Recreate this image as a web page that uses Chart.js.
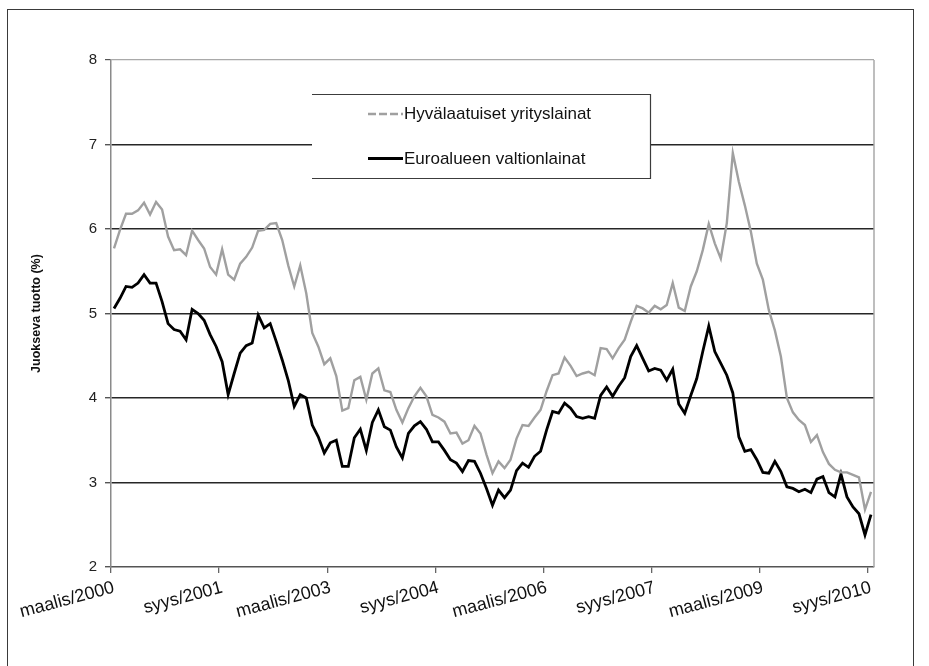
<!DOCTYPE html>
<html>
<head>
<meta charset="utf-8">
<script src="https://cdn.jsdelivr.net/npm/chart.js@4/dist/chart.umd.min.js"></script>
<style>
  html, body { margin: 0; padding: 0; background: #fff; }
  #wrap { position: relative; width: 929px; height: 666px; overflow: hidden; background: #fff; }
  #frame { position: absolute; left: 7px; top: 9px; width: 907px; height: 720px; border: 1px solid #3a3a3a; box-sizing: border-box; pointer-events: none; }
  canvas { position: absolute; left: 0; top: 0; }
</style>
</head>
<body>
<div id="wrap">
  <canvas id="chart" width="929" height="666"></canvas>
  <div id="frame"></div>
</div>
<script>
// Monthly categories, maalis/2000 .. syys/2010
const monthNames = ['tammi', 'helmi', 'maalis', 'huhti', 'touko', 'kesä', 'heinä', 'elo', 'syys', 'loka', 'marras', 'joulu'];
const firstMonth = 2, firstYear = 2000, monthCount = 127;
const categories = [];
for (let k = 0; k < monthCount; k++) {
  const m = firstMonth + k;
  categories.push(monthNames[m % 12] + '/' + (firstYear + Math.floor(m / 12)));
}

// Labels shown on the x axis, one every 18 months
const tickEvery = 18;
const tickLabels = ['maalis/2000', 'syys/2001', 'maalis/2003', 'syys/2004', 'maalis/2006', 'syys/2007', 'maalis/2009', 'syys/2010'];

// Y axis range (%)
const yTicks = [2, 3, 4, 5, 6, 7, 8];

// Hyvälaatuiset yrityslainat, running yield (%)
const corporate = [
  5.77, 5.99, 6.18, 6.18, 6.22, 6.31, 6.17, 6.32, 6.23, 5.91,
  5.75, 5.76, 5.69, 5.98, 5.87, 5.77, 5.55, 5.46, 5.76, 5.46,
  5.40, 5.59, 5.67, 5.78, 5.98, 5.99, 6.06, 6.07, 5.87, 5.57,
  5.32, 5.57, 5.24, 4.77, 4.61, 4.40, 4.47, 4.26, 3.85, 3.88,
  4.21, 4.25, 3.98, 4.29, 4.35, 4.09, 4.07, 3.86, 3.71, 3.88,
  4.02, 4.12, 4.02, 3.80, 3.77, 3.72, 3.58, 3.59, 3.46, 3.50,
  3.67, 3.58, 3.33, 3.11, 3.25, 3.17, 3.27, 3.52, 3.68, 3.67,
  3.77, 3.86, 4.08, 4.27, 4.29, 4.48, 4.38, 4.26, 4.29, 4.31,
  4.27, 4.59, 4.58, 4.47, 4.59, 4.69, 4.90, 5.09, 5.06, 5.01,
  5.09, 5.05, 5.10, 5.36, 5.07, 5.03, 5.32, 5.50, 5.75, 6.06,
  5.83, 5.65, 6.07, 6.90, 6.56, 6.28, 5.97, 5.59, 5.40, 5.04,
  4.80, 4.49, 4.00, 3.83, 3.74, 3.68, 3.48, 3.56, 3.36, 3.22,
  3.15, 3.12, 3.12, 3.09, 3.06, 2.68, 2.89
];

// Euroalueen valtionlainat, running yield (%)
const government = [
  5.06, 5.18, 5.32, 5.31, 5.36, 5.46, 5.36, 5.36, 5.14, 4.88,
  4.81, 4.79, 4.69, 5.05, 5.00, 4.92, 4.75, 4.61, 4.43, 4.04,
  4.29, 4.53, 4.62, 4.65, 4.98, 4.83, 4.88, 4.67, 4.45, 4.21,
  3.90, 4.04, 4.00, 3.68, 3.54, 3.35, 3.47, 3.50, 3.19, 3.19,
  3.53, 3.63, 3.38, 3.71, 3.86, 3.66, 3.62, 3.42, 3.29, 3.58,
  3.67, 3.72, 3.63, 3.48, 3.48, 3.38, 3.27, 3.23, 3.13, 3.26,
  3.25, 3.11, 2.93, 2.73, 2.91, 2.82, 2.91, 3.14, 3.23, 3.18,
  3.31, 3.37, 3.62, 3.84, 3.82, 3.94, 3.88, 3.78, 3.76, 3.78,
  3.76, 4.03, 4.13, 4.02, 4.14, 4.24, 4.49, 4.62, 4.47, 4.32,
  4.35, 4.33, 4.21, 4.34, 3.93, 3.82, 4.03, 4.23, 4.55, 4.85,
  4.55, 4.41, 4.27, 4.06, 3.54, 3.37, 3.39, 3.27, 3.12, 3.11,
  3.25, 3.13, 2.95, 2.93, 2.89, 2.92, 2.88, 3.04, 3.07, 2.88,
  2.83, 3.10, 2.83, 2.71, 2.63, 2.38, 2.62
];

const FONT = "'Liberation Sans', Arial, sans-serif";

// Light border on the right edge of the plot area
const plotEdge = {
  id: 'plotEdge',
  beforeDatasetsDraw(chart) {
    const { ctx, chartArea: a } = chart;
    ctx.save();
    ctx.strokeStyle = '#a9a9a9';
    ctx.lineWidth = 1.5;
    ctx.beginPath();
    ctx.moveTo(a.right, a.top);
    ctx.lineTo(a.right, a.bottom);
    ctx.stroke();
    ctx.restore();
  }
};

// Boxed legend placed inside the plot area
const boxLegend = {
  id: 'boxLegend',
  afterDatasetsDraw(chart) {
    const { ctx } = chart;
    const x0 = 312, x1 = 650.5, y0 = 94.5, y1 = 178.5;
    ctx.save();
    ctx.fillStyle = '#fff';
    ctx.fillRect(x0, y0, x1 - x0, y1 - y0);
    ctx.strokeStyle = '#3c3c3c';
    ctx.lineWidth = 1.2;
    ctx.beginPath();
    ctx.moveTo(x0, y0); ctx.lineTo(x1, y0); ctx.lineTo(x1, y1); ctx.lineTo(x0, y1);
    ctx.stroke();

    const rows = [114, 158.5];
    chart.data.datasets.forEach((ds, i) => {
      const y = rows[i];
      ctx.strokeStyle = ds.borderColor;
      ctx.lineWidth = ds.borderWidth;
      ctx.setLineDash(i === 0 ? [8, 3] : []);
      ctx.beginPath();
      ctx.moveTo(368, y); ctx.lineTo(403, y);
      ctx.stroke();
      ctx.setLineDash([]);
      ctx.fillStyle = '#111';
      ctx.font = '17px ' + FONT;
      ctx.textBaseline = 'middle';
      ctx.textAlign = 'left';
      ctx.fillText(ds.label, 404, y + 0.5);
    });
    ctx.restore();
  }
};

new Chart(document.getElementById('chart'), {
  type: 'line',
  data: {
    labels: categories,
    datasets: [
      { label: 'Hyvälaatuiset yrityslainat', data: corporate, borderColor: '#a0a0a0', borderWidth: 2.4, pointRadius: 0, tension: 0 },
      { label: 'Euroalueen valtionlainat', data: government, borderColor: '#000000', borderWidth: 2.8, pointRadius: 0, tension: 0 }
    ]
  },
  options: {
    responsive: false,
    animation: false,
    devicePixelRatio: 1,
    layout: { padding: { left: 0, right: 55, top: 60, bottom: 0 } },
    plugins: { legend: { display: false }, tooltip: { enabled: false } },
    scales: {
      x: {
        type: 'category',
        offset: true,
        grid: {
          offset: true,
          drawOnChartArea: false,
          drawTicks: true,
          tickLength: 6,
          lineWidth: 1.3,
          color: ctx => (ctx.index % tickEvery === 0 && ctx.index < monthCount) ? '#666' : 'rgba(0,0,0,0)'
        },
        border: { color: '#555', width: 1.5 },
        ticks: {
          autoSkip: false,
          minRotation: 15,
          maxRotation: 15,
          padding: 4,
          color: '#111',
          font: { family: FONT, size: 18 },
          callback: (v, i) => (i % tickEvery === 0 ? tickLabels[i / tickEvery] : '')
        },
        afterFit: s => { s.height = 99; }
      },
      y: {
        min: yTicks[0],
        max: yTicks[yTicks.length - 1],
        afterBuildTicks: s => { s.ticks = yTicks.map(v => ({ value: v })); },
        ticks: { padding: 8, color: '#222', font: { family: FONT, size: 15 } },
        grid: {
          color: ctx => ctx.tick.value === 8 ? '#a9a9a9' : (ctx.tick.value === 2 ? 'rgba(0,0,0,0)' : '#262626'),
          lineWidth: ctx => ctx.tick.value === 8 ? 1.2 : 1.4,
          tickColor: '#555',
          tickLength: 6
        },
        border: { color: '#8a8a8a', width: 1.5 },
        title: {
          display: true,
          text: 'Juokseva tuotto (%)',
          color: '#111',
          font: { family: FONT, size: 12.5, weight: 'bold' },
          padding: { top: 29, bottom: 0 }
        },
        afterFit: s => { s.width = 111; }
      }
    }
  },
  plugins: [plotEdge, boxLegend]
});
</script>
</body>
</html>
